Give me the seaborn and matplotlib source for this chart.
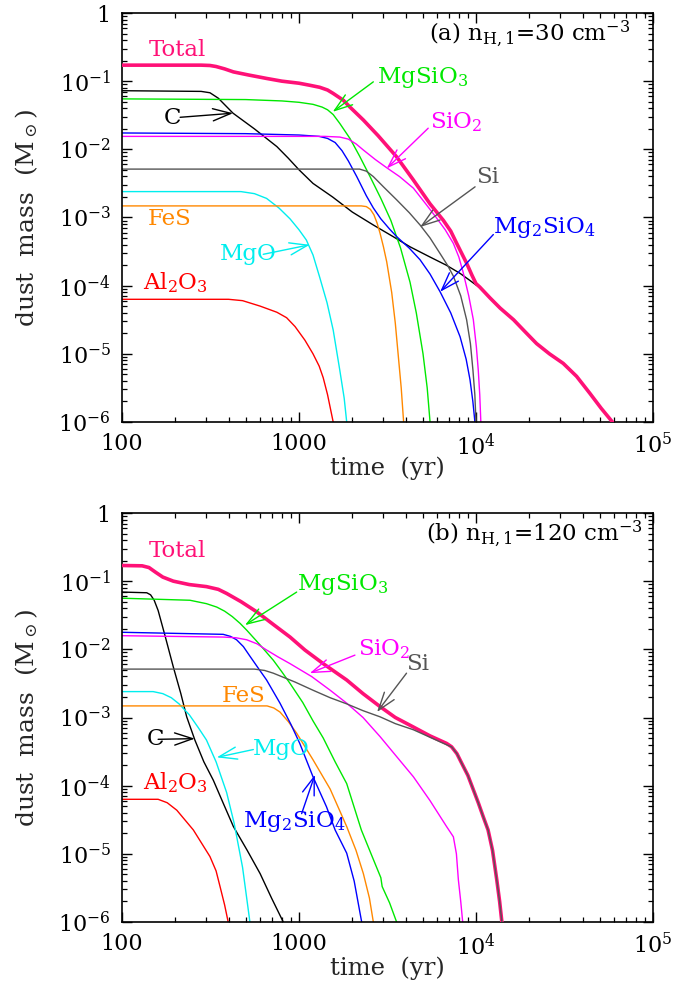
import numpy as np
import pandas as pd
import matplotlib
matplotlib.use("Agg")
import matplotlib.pyplot as plt
import seaborn as sns
from matplotlib.ticker import FixedLocator, FixedFormatter, LogLocator, NullFormatter

sns.set_style("ticks")
plt.rcParams['font.family'] = ['DejaVu Serif']
plt.rcParams['mathtext.fontset'] = 'dejavuserif'

# ---------------- data: time (yr) and log10 dust mass (Msun) ----------------
# panel (a) n_H,1 = 30 cm^-3
a_total_t = [100, 280, 314, 340, 380, 426, 520, 656, 800, 1000, 1150, 1310, 1450, 1560, 1780, 1940, 2310, 2800, 3560, 4400, 5500, 6530, 7200, 7780, 8850, 9500, 10000, 10500, 12000, 13700, 16300, 19000, 22000, 26000, 31100, 37000, 44000, 51000, 59000]
a_total_lm = [-0.765, -0.765, -0.77, -0.785, -0.82, -0.864, -0.91, -0.96, -1.0, -1.03, -1.06, -1.09, -1.13, -1.18, -1.28, -1.38, -1.57, -1.80, -2.11, -2.44, -2.80, -3.04, -3.20, -3.38, -3.67, -3.85, -3.97, -4.02, -4.18, -4.33, -4.50, -4.68, -4.85, -5.0, -5.14, -5.33, -5.58, -5.80, -6.0]
a_c_t = [100, 280, 314, 350, 424, 560, 750, 870, 1000, 1200, 1550, 2000, 2630, 3400, 4240, 5500, 6800, 8130, 9200, 10000, 10500, 12000, 13700, 16300, 19000, 22000, 26000, 31100, 37000, 44000, 51000, 59000]
a_c_lm = [-1.14, -1.15, -1.17, -1.25, -1.47, -1.70, -1.96, -2.13, -2.30, -2.50, -2.70, -2.92, -3.11, -3.28, -3.43, -3.58, -3.70, -3.82, -3.92, -3.99, -4.02, -4.18, -4.33, -4.50, -4.68, -4.85, -5.0, -5.14, -5.33, -5.58, -5.80, -6.0]
a_mgsio3_t = [100, 500, 800, 1000, 1200, 1350, 1450, 1560, 1700, 1940, 2200, 2520, 2900, 3300, 3750, 4240, 4600, 5020, 5300, 5500]
a_mgsio3_lm = [-1.26, -1.27, -1.29, -1.31, -1.34, -1.38, -1.42, -1.49, -1.62, -1.84, -2.10, -2.40, -2.72, -3.04, -3.45, -3.95, -4.40, -5.0, -5.5, -6.0]
a_sio2_t = [100, 1400, 1700, 1900, 2100, 2310, 2700, 3130, 3700, 4430, 5200, 6000, 6700, 7450, 8000, 8450, 9100, 9660, 10050, 10300, 10500, 10650]
a_sio2_lm = [-1.81, -1.81, -1.82, -1.85, -1.92, -2.01, -2.15, -2.27, -2.40, -2.57, -2.80, -3.01, -3.18, -3.38, -3.58, -3.80, -4.15, -4.50, -4.90, -5.24, -5.6, -6.0]
a_mg2sio4_t = [100, 500, 1000, 1300, 1450, 1600, 1750, 1900, 2120, 2400, 2630, 2900, 3250, 3560, 4200, 4830, 5500, 6270, 7200, 8130, 8800, 9250, 9600, 9860]
a_mg2sio4_lm = [-1.76, -1.77, -1.79, -1.81, -1.84, -1.90, -2.02, -2.17, -2.40, -2.68, -2.86, -3.02, -3.17, -3.28, -3.45, -3.62, -3.83, -4.09, -4.40, -4.75, -5.08, -5.38, -5.7, -6.0]
a_si_t = [100, 2200, 2400, 2630, 3000, 3560, 4200, 4830, 5500, 6270, 6900, 7450, 8200, 8850, 9300, 9610, 9850, 10000]
a_si_lm = [-2.29, -2.29, -2.32, -2.40, -2.55, -2.74, -2.93, -3.11, -3.30, -3.53, -3.70, -3.86, -4.15, -4.50, -4.85, -5.24, -5.6, -6.0]
a_fes_t = [100, 2250, 2400, 2530, 2650, 2760, 2870, 3000, 3130, 3340, 3500, 3630, 3780, 3900]
a_fes_lm = [-2.83, -2.83, -2.84, -2.88, -2.96, -3.08, -3.23, -3.43, -3.65, -4.10, -4.55, -5.0, -5.5, -6.0]
a_mgo_t = [100, 470, 560, 656, 770, 890, 1000, 1100, 1200, 1310, 1440, 1560, 1700, 1800, 1860]
a_mgo_lm = [-2.62, -2.62, -2.65, -2.72, -2.86, -3.02, -3.18, -3.33, -3.55, -3.88, -4.25, -4.65, -5.24, -5.65, -6.0]
a_al2o3_t = [100, 400, 480, 603, 750, 851, 950, 1080, 1200, 1300, 1370, 1450, 1560]
a_al2o3_lm = [-4.20, -4.20, -4.22, -4.30, -4.39, -4.47, -4.60, -4.80, -5.0, -5.18, -5.35, -5.6, -6.0]

# panel (b) n_H,1 = 120 cm^-3
b_total_t = [100, 130, 142, 155, 170, 195, 240, 300, 350, 390, 470, 577, 720, 890, 1080, 1370, 1860, 2300, 2870, 3500, 4430, 5500, 6820, 7280, 7800, 8300, 9000, 9660, 10300, 11000, 11700, 12400, 13100, 13600, 14000]
b_total_lm = [-0.77, -0.775, -0.80, -0.87, -0.94, -1.00, -1.05, -1.08, -1.12, -1.18, -1.30, -1.45, -1.64, -1.82, -2.01, -2.21, -2.45, -2.65, -2.84, -3.00, -3.14, -3.27, -3.38, -3.43, -3.53, -3.67, -3.85, -4.06, -4.25, -4.46, -4.65, -4.95, -5.38, -5.70, -6.0]
b_c_t = [100, 138, 145, 152, 160, 175, 195, 215, 232, 258, 290, 328, 375, 426, 510, 603, 700, 815]
b_c_lm = [-1.16, -1.17, -1.20, -1.28, -1.43, -1.80, -2.26, -2.65, -2.99, -3.33, -3.65, -3.92, -4.27, -4.60, -4.95, -5.29, -5.65, -6.0]
b_mgsio3_t = [100, 242, 300, 343, 380, 420, 465, 507, 600, 716, 800, 890, 1050, 1200, 1370, 1600, 1860, 2250, 2600, 2900, 2950, 3250, 3560]
b_mgsio3_lm = [-1.25, -1.28, -1.33, -1.38, -1.44, -1.52, -1.62, -1.72, -1.93, -2.16, -2.33, -2.50, -2.78, -3.05, -3.30, -3.65, -3.97, -4.65, -5.05, -5.35, -5.48, -5.72, -6.0]
b_sio2_t = [100, 373, 440, 507, 580, 656, 760, 890, 1180, 1500, 1860, 2300, 2870, 3500, 4430, 5500, 6820, 7450, 7750, 7950, 8200, 8410]
b_sio2_lm = [-1.80, -1.82, -1.83, -1.86, -1.92, -2.01, -2.11, -2.21, -2.40, -2.60, -2.79, -3.00, -3.28, -3.55, -3.87, -4.22, -4.60, -4.75, -5.0, -5.38, -5.7, -6.0]
b_mg2sio4_t = [100, 373, 410, 444, 485, 528, 590, 656, 781, 900, 1010, 1200, 1430, 1600, 1860, 2050, 2260]
b_mg2sio4_lm = [-1.75, -1.78, -1.81, -1.86, -1.96, -2.10, -2.28, -2.45, -2.79, -3.10, -3.38, -3.87, -4.31, -4.65, -4.99, -5.40, -6.0]
b_si_t = [100, 560, 640, 716, 781, 950, 1200, 1500, 1860, 2300, 2870, 3500, 4430, 5500, 6820, 7280, 7800, 8300, 9000, 9660, 10300, 11000, 11700, 12400, 13100, 13600, 14000]
b_si_lm = [-2.29, -2.29, -2.31, -2.35, -2.39, -2.48, -2.60, -2.71, -2.80, -2.90, -2.99, -3.09, -3.18, -3.29, -3.40, -3.43, -3.53, -3.67, -3.85, -4.06, -4.25, -4.46, -4.65, -4.95, -5.38, -5.70, -6.0]
b_fes_t = [100, 660, 720, 781, 870, 970, 1200, 1500, 1860, 2100, 2310, 2500, 2630]
b_fes_lm = [-2.83, -2.83, -2.86, -2.92, -3.06, -3.23, -3.62, -4.05, -4.60, -4.95, -5.29, -5.65, -6.0]
b_mgo_t = [100, 150, 170, 190, 210, 240, 270, 300, 340, 390, 430, 480, 528]
b_mgo_lm = [-2.62, -2.62, -2.65, -2.71, -2.80, -2.96, -3.15, -3.33, -3.65, -4.10, -4.55, -5.20, -6.0]
b_al2o3_t = [100, 160, 180, 204, 253, 314, 340, 358, 380, 398]
b_al2o3_lm = [-4.20, -4.20, -4.25, -4.36, -4.65, -5.04, -5.25, -5.48, -5.75, -6.0]

x_ticks = [100, 1000, 1e4, 1e5]
x_tick_labels = ["100", "1000", "$10^4$", "$10^5$"]
y_ticks = [1e-6, 1e-5, 1e-4, 1e-3, 1e-2, 1e-1, 1]
y_tick_labels = ["$10^{-6}$", "$10^{-5}$", "$10^{-4}$", "$10^{-3}$", "$10^{-2}$", "$10^{-1}$", "1"]

C_TOTAL = '#FF1177'
C_C = 'black'
C_MGSIO3 = '#00E800'
C_SIO2 = '#FF00FF'
C_MG2SIO4 = '#0000FF'
C_SI = '#555555'
C_FES = '#FF8800'
C_MGO = '#00EEEE'
C_AL2O3 = '#FF0000'

# --------------------------------------------------------------------------
fig = plt.figure(figsize=(6.99, 9.91), dpi=100)
W, H = 699.0, 991.0
ax1 = fig.add_axes([122 / W, (H - 422) / H, 531 / W, 409 / H])
ax2 = fig.add_axes([122 / W, (H - 922) / H, 531 / W, 409 / H])

TH = 1.0
panels = [
    (ax1, [
        ("C", a_c_t, a_c_lm, C_C, TH, 2),
        ("Al2O3", a_al2o3_t, a_al2o3_lm, C_AL2O3, TH, 2),
        ("MgO", a_mgo_t, a_mgo_lm, C_MGO, TH, 2),
        ("FeS", a_fes_t, a_fes_lm, C_FES, TH, 2),
        ("MgSiO3", a_mgsio3_t, a_mgsio3_lm, C_MGSIO3, TH, 2),
        ("Mg2SiO4", a_mg2sio4_t, a_mg2sio4_lm, C_MG2SIO4, TH, 2),
        ("Si", a_si_t, a_si_lm, C_SI, TH, 2),
        ("SiO2", a_sio2_t, a_sio2_lm, C_SIO2, TH, 2),
        ("Total", a_total_t, a_total_lm, C_TOTAL, 2.6, 3),
    ]),
    (ax2, [
        ("C", b_c_t, b_c_lm, C_C, TH, 2),
        ("Al2O3", b_al2o3_t, b_al2o3_lm, C_AL2O3, TH, 2),
        ("MgO", b_mgo_t, b_mgo_lm, C_MGO, TH, 2),
        ("FeS", b_fes_t, b_fes_lm, C_FES, TH, 2),
        ("MgSiO3", b_mgsio3_t, b_mgsio3_lm, C_MGSIO3, TH, 2),
        ("Mg2SiO4", b_mg2sio4_t, b_mg2sio4_lm, C_MG2SIO4, TH, 2),
        ("SiO2", b_sio2_t, b_sio2_lm, C_SIO2, TH, 2),
        ("Total", b_total_t, b_total_lm, C_TOTAL, 2.6, 3),
        ("Si", b_si_t, b_si_lm, C_SI, TH, 4),
    ]),
]

for ax, series in panels:
    ax.set_xscale('log')
    ax.set_yscale('log')
    for name, t, lm, color, lw, z in series:
        df = pd.DataFrame({'t': t, 'm': 10 ** np.asarray(lm)})
        sns.lineplot(data=df, x='t', y='m', ax=ax, color=color, linewidth=lw,
                     zorder=z, estimator=None, sort=False, legend=False)
    ax.set_xlim(100, 1e5)
    ax.set_ylim(1e-6, 1)
    ax.xaxis.set_major_locator(FixedLocator(x_ticks))
    ax.xaxis.set_major_formatter(FixedFormatter(x_tick_labels))
    ax.xaxis.set_minor_locator(LogLocator(base=10, subs=range(2, 10), numticks=20))
    ax.xaxis.set_minor_formatter(NullFormatter())
    ax.yaxis.set_major_locator(FixedLocator(y_ticks))
    ax.yaxis.set_major_formatter(FixedFormatter(y_tick_labels))
    ax.yaxis.set_minor_locator(LogLocator(base=10, subs=range(2, 10), numticks=20))
    ax.yaxis.set_minor_formatter(NullFormatter())
    ax.tick_params(which='both', direction='in', top=True, right=True,
                   labelsize=16, colors='black')
    ax.tick_params(which='major', length=7.5, width=1.0, pad=8)
    ax.tick_params(which='minor', length=3.8, width=0.9)
    for sp in ax.spines.values():
        sp.set_linewidth(1.2)
        sp.set_color('black')
    ax.set_xlabel("time  (yr)", fontsize=17.5)
    ax.set_ylabel(r"dust  mass  (M$_\odot$)", fontsize=18)
    ax.xaxis.set_label_coords(0.5, -0.085)
    ax.yaxis.set_label_coords(-0.155, 0.5)

FS = 16.5

def label(ax, x, y, s, color, ha='left'):
    ax.text(x, y, s, color=color, fontsize=FS, ha=ha, va='baseline', zorder=6)

def arrow(ax, tail, tip, color):
    ax.annotate("", xy=tip, xytext=tail,
                arrowprops=dict(arrowstyle="->,head_length=0.65,head_width=0.22",
                                color=color, lw=1.0, mutation_scale=20,
                                shrinkA=0, shrinkB=0), zorder=6)

# ---- panel (a) labels ----
ax = ax1
ax.text(205, 10 ** -0.545, "Total", color=C_TOTAL, fontsize=FS, ha='center', va='center')
ax.text(192, 10 ** -1.54, "C", color=C_C, fontsize=FS, ha='center', va='center')
arrow(ax, (213, 10 ** -1.53), (424, 10 ** -1.47), C_C)
label(ax, 2760, 10 ** -1.034, "MgSiO$_3$", C_MGSIO3)
arrow(ax, (2630, 10 ** -1.01), (1550, 10 ** -1.45), C_MGSIO3)
label(ax, 5500, 10 ** -1.69, "SiO$_2$", C_SIO2)
arrow(ax, (5370, 10 ** -1.69), (3130, 10 ** -2.28), C_SIO2)
label(ax, 10000, 10 ** -2.50, "Si", C_SI)
arrow(ax, (9880, 10 ** -2.55), (4830, 10 ** -3.14), C_SI)
label(ax, 12530, 10 ** -3.23, "Mg$_2$SiO$_4$", C_MG2SIO4)
arrow(ax, (12530, 10 ** -3.25), (6270, 10 ** -4.09), C_MG2SIO4)
label(ax, 140, 10 ** -3.11, "FeS", C_FES)
label(ax, 358, 10 ** -3.62, "MgO", C_MGO)
arrow(ax, (628, 10 ** -3.54), (1150, 10 ** -3.40), C_MGO)
label(ax, 131, 10 ** -4.06, "Al$_2$O$_3$", C_AL2O3)
ax.text(0.957, 0.93, r"(a) n$_{\rm H,1}$=30 cm$^{-3}$", transform=ax.transAxes,
        ha='right', va='baseline', fontsize=FS, color='black')

# ---- panel (b) labels ----
ax = ax2
ax.text(205, 10 ** -0.56, "Total", color=C_TOTAL, fontsize=FS, ha='center', va='center')
label(ax, 970, 10 ** -1.13, "MgSiO$_3$", C_MGSIO3)
arrow(ax, (970, 10 ** -1.16), (495, 10 ** -1.645), C_MGSIO3)
label(ax, 2160, 10 ** -2.085, "SiO$_2$", C_SIO2)
arrow(ax, (2070, 10 ** -2.085), (1150, 10 ** -2.35), C_SIO2)
label(ax, 4050, 10 ** -2.305, "Si", C_SI)
arrow(ax, (4050, 10 ** -2.35), (2760, 10 ** -2.92), C_SI)
label(ax, 366, 10 ** -2.77, "FeS", C_FES)
label(ax, 138, 10 ** -3.405, "C", C_C)
arrow(ax, (160, 10 ** -3.32), (258, 10 ** -3.31), C_C)
label(ax, 552, 10 ** -3.55, "MgO", C_MGO)
arrow(ax, (552, 10 ** -3.47), (343, 10 ** -3.585), C_MGO)
label(ax, 131, 10 ** -4.06, "Al$_2$O$_3$", C_AL2O3)
label(ax, 484, 10 ** -4.60, "Mg$_2$SiO$_4$", C_MG2SIO4)
arrow(ax, (1035, 10 ** -4.41), (1230, 10 ** -3.84), C_MG2SIO4)
ax.text(0.981, 0.93, r"(b) n$_{\rm H,1}$=120 cm$^{-3}$", transform=ax.transAxes,
        ha='right', va='baseline', fontsize=FS, color='black')

fig.savefig("out.png", dpi=100)
